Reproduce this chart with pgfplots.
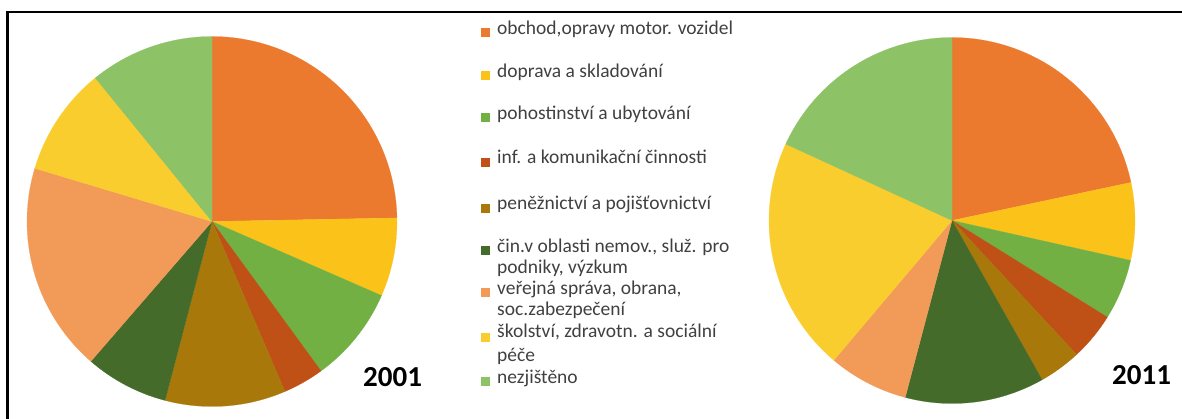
\documentclass[border=0pt]{standalone}
\usepackage{pgfplots}
\pgfplotsset{compat=1.18}
\usepackage{fontspec}
\setmainfont{Carlito}
\definecolor{obchodC}{HTML}{EC7A2E}
\definecolor{dopravaC}{HTML}{FBC21A}
\definecolor{pohostC}{HTML}{72B043}
\definecolor{infC}{HTML}{BF5016}
\definecolor{penezC}{HTML}{A8790A}
\definecolor{cinC}{HTML}{446B2A}
\definecolor{verejC}{HTML}{F29A58}
\definecolor{skolC}{HTML}{F9CD2E}
\definecolor{nezjC}{HTML}{8DC266}
\definecolor{legtext}{HTML}{404040}
% slice: center x, center y, radius, start angle, end angle, colour
\newcommand{\slice}[6]{%
  \addplot[fill=#6, draw=#6, line width=0.2pt, domain=#4:#5, samples=70, variable=\t]
    ({#1+#3*cos(\t)},{#2+#3*sin(\t)}) -- (#1,#2) -- cycle;%
}
\newcommand{\legmark}[2]{% y, colour
  \addplot[only marks, mark=square*, mark size=4bp, mark options={draw=#2, fill=#2}] coordinates {(485,#1)};%
}
\begin{document}
\begin{tikzpicture}
\begin{axis}[
  scale only axis, width=1182bp, height=419bp,
  xmin=0, xmax=1182, ymin=0, ymax=419,
  axis lines=none, clip=false,
]
% ---- 2001 (boundary angles, counter-clockwise degrees) ----
\slice{212}{197.5}{185}{1.1}{90}{obchodC}
\slice{212}{197.5}{185}{-23.6}{1.1}{dopravaC}
\slice{212}{197.5}{185}{-53.9}{-23.6}{pohostC}
\slice{212}{197.5}{185}{-66.8}{-53.9}{infC}
\slice{212}{197.5}{185}{-104.7}{-66.8}{penezC}
\slice{212}{197.5}{185}{-130.9}{-104.7}{cinC}
\slice{212}{197.5}{185}{-196.7}{-130.9}{verejC}
\slice{212}{197.5}{185}{-230.9}{-196.7}{skolC}
\slice{212}{197.5}{185}{-270}{-230.9}{nezjC}
% ---- 2011 ----
\slice{952}{198.5}{183}{12}{90}{obchodC}
\slice{952}{198.5}{183}{-12.6}{12}{dopravaC}
\slice{952}{198.5}{183}{-31.9}{-12.6}{pohostC}
\slice{952}{198.5}{183}{-47.1}{-31.9}{infC}
\slice{952}{198.5}{183}{-60.5}{-47.1}{penezC}
\slice{952}{198.5}{183}{-104.8}{-60.5}{cinC}
\slice{952}{198.5}{183}{-130.2}{-104.8}{verejC}
\slice{952}{198.5}{183}{-204.7}{-130.2}{skolC}
\slice{952}{198.5}{183}{-270}{-204.7}{nezjC}
% ---- legend markers ----
\legmark{387}{obchodC}
\legmark{344}{dopravaC}
\legmark{302}{pohostC}
\legmark{257}{infC}
\legmark{211}{penezC}
\legmark{169}{cinC}
\legmark{127}{verejC}
\legmark{82}{skolC}
\legmark{38}{nezjC}
% ---- legend text ----
\begin{scope}[every node/.style={anchor=mid west, inner sep=0pt, text=legtext, font=\fontsize{19.5bp}{21bp}\selectfont}]
\node at (axis cs:497,387) {obchod,opravy motor. vozidel};
\node at (axis cs:497,344) {doprava a skladování};
\node at (axis cs:497,302) {pohostinství a ubytování};
\node at (axis cs:497,258) {inf. a komunikační činnosti};
\node at (axis cs:497,212) {peněžnictví a pojišťovnictví};
\node at (axis cs:497,169) {čin.v oblasti nemov., služ. pro};
\node at (axis cs:497,148) {podniky, výzkum};
\node at (axis cs:497,127) {veřejná správa, obrana,};
\node at (axis cs:497,106) {soc.zabezpečení};
\node at (axis cs:497,84) {školství, zdravotn. a sociální};
\node at (axis cs:497,60) {péče};
\node at (axis cs:497,38) {nezjištěno};
\end{scope}
\node[anchor=west, inner sep=0pt, font=\fontsize{29bp}{30bp}\selectfont\bfseries] at (axis cs:363,42) {2001};
\node[anchor=west, inner sep=0pt, font=\fontsize{29bp}{30bp}\selectfont\bfseries] at (axis cs:1112,44) {2011};
% frame (left and top edges)
\draw[line width=2bp, black] (axis cs:7.5,0) -- (axis cs:7.5,406.5) -- (axis cs:1182,406.5);
\end{axis}
\pgfresetboundingbox
\path[use as bounding box] (0,0) rectangle (1182bp,419bp);
\end{tikzpicture}
\end{document}
